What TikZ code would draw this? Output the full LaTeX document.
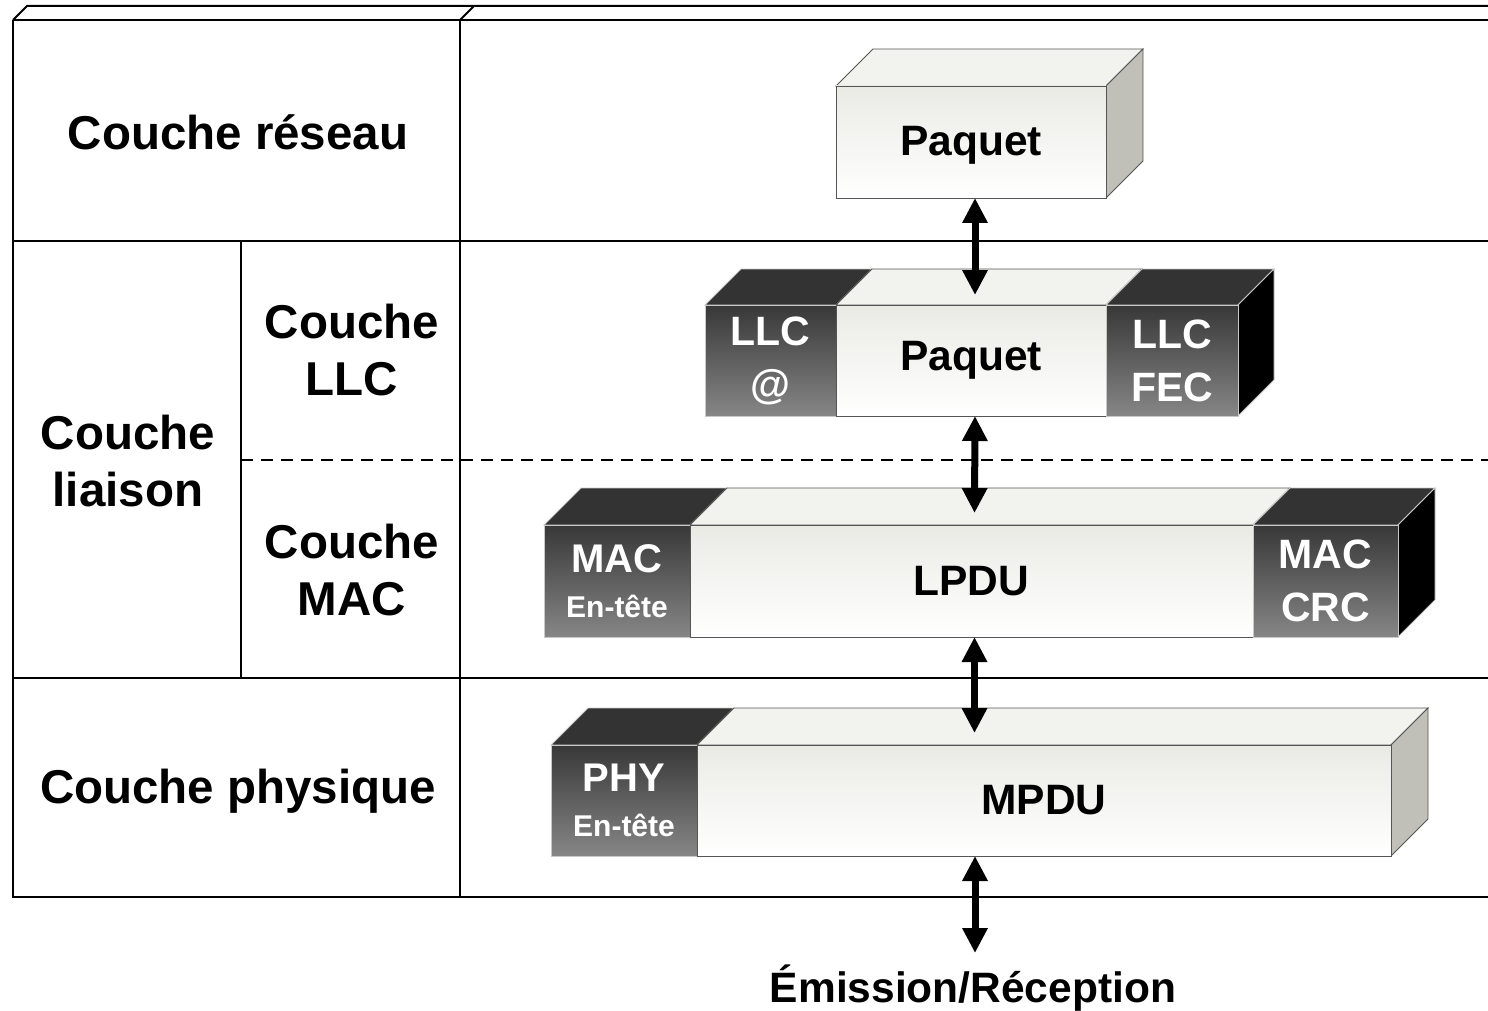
\documentclass[tikz,border=0pt]{standalone}
\usepackage{fontspec}
\setmainfont{Liberation Sans}
\usetikzlibrary{arrows.meta}
\definecolor{lighttop}{HTML}{EAEAE5}
\definecolor{lightface}{HTML}{F2F2EE}
\definecolor{grayside}{HTML}{C0C0B8}
\definecolor{darktop}{HTML}{383838}
\definecolor{darkbot}{HTML}{868686}
\definecolor{darkface}{HTML}{333333}
\definecolor{ledge}{HTML}{555555}
\definecolor{dedge}{HTML}{C8C8C8}
\newcommand\topface[5]{\filldraw[#5] (#1,#3) -- ++(#4,-#4) -- (#2+#4,#3-#4) -- (#2,#3) -- cycle;}
\newcommand\sideface[5]{\filldraw[#5] (#1,#2) -- ++(#4,-#4) -- ++(0,#3-#2) -- (#1,#3) -- cycle;}
\begin{document}
\begin{tikzpicture}[x=1pt,y=-1pt,
  tbl/.style={line width=2pt,black},
  lbl/.style={font=\fontsize{47.5}{57}\selectfont\bfseries, align=center},
  lfront/.style={draw=ledge, line width=0.8pt, top color=lighttop, bottom color=white,
    inner sep=0pt, outer sep=0pt, anchor=north west, font=\fontsize{42.5}{48}\selectfont\bfseries},
  dfront/.style={draw=dedge, line width=0.8pt, top color=darktop, bottom color=darkbot,
    inner sep=0pt, outer sep=0pt, anchor=north west, text=white, align=center},
  ltop/.style={fill=lightface, draw=ledge, line width=0.8pt},
  dtop/.style={fill=darkface, draw=dedge, line width=0.8pt},
  gside/.style={fill=grayside, draw=ledge, line width=0.8pt},
  bside/.style={fill=black, draw=dedge, line width=0.8pt},
  big/.style={font=\fontsize{41}{53}\selectfont\bfseries},
  hdr/.style={font=\fontsize{40}{43}\selectfont\bfseries},
  arr/.style={line width=7pt, {Triangle[width=24pt,length=25pt]}-{Triangle[width=24pt,length=25pt]}}
]
\useasboundingbox (0,0) rectangle (1488,1011);
% table
\draw[tbl] (13,20) -- (27,6) -- (1488,6);
\draw[tbl] (460,20) -- (474,6);
\draw[tbl] (13,20) -- (1488,20);
\draw[tbl] (13,20) -- (13,897) -- (1488,897);
\draw[tbl] (13,241) -- (1488,241);
\draw[tbl] (13,678) -- (1488,678);
\draw[tbl] (460,20) -- (460,897);
\draw[tbl] (241,241) -- (241,678);
\draw[line width=1.5pt, dash pattern=on 12pt off 8pt] (241,460) -- (1488,460);
% labels
\node[lbl] (reseau) at (238,132) {Couche réseau};
\node[lbl] (llc) at (352,350) {Couche\\LLC};
\node[lbl] (liaison) at (128,461) {Couche\\liaison};
\node[lbl] (mac) at (352,570) {Couche\\MAC};
\node[lbl] (phys) at (238,791) {Couche physique};
% row 0
\topface{836}{1106}{86}{37}{ltop}
\sideface{1106}{86}{198}{37}{gside}
\node[lfront, minimum width=270pt, minimum height=112pt, text depth=0pt, text height=0pt] (p1) at (836,86) {};
\node[font=\fontsize{42.5}{48}\selectfont\bfseries] (p1t) at ([yshift=-3pt]p1.center) {Paquet};
% row 1
\topface{705}{836}{305}{36}{dtop}
\topface{836}{1106}{305}{36}{ltop}
\topface{1106}{1238}{305}{36}{dtop}
\sideface{1238}{305}{416}{36}{bside}
\node[dfront, minimum width=131pt, minimum height=111pt, big] (llca) at (705,305) {LLC\\@};
\node[lfront, minimum width=270pt, minimum height=111pt] (p2) at (836,305) {Paquet};
\node[dfront, minimum width=132pt, minimum height=111pt, big] (llcf) at (1106,305) {LLC\\FEC};
% row 2
\topface{544}{690}{525}{37}{dtop}
\topface{690}{1253}{525}{37}{ltop}
\topface{1253}{1398}{525}{37}{dtop}
\sideface{1398}{525}{637}{37}{bside}
\node[dfront, minimum width=146pt, minimum height=112pt, hdr] (mach) at (544,525)
  {MAC\\[2pt]\fontsize{30}{43}\selectfont En-tête};
\node[lfront, minimum width=563pt, minimum height=112pt] (p3) at (690,525) {LPDU};
\node[dfront, minimum width=145pt, minimum height=112pt, big] (macc) at (1253,525) {MAC\\CRC};
% row 3
\topface{551}{697}{745}{37}{dtop}
\topface{697}{1391}{745}{37}{ltop}
\sideface{1391}{745}{856}{37}{gside}
\node[dfront, minimum width=146pt, minimum height=111pt, hdr] (phyh) at (551,745)
  {PHY\\[2pt]\fontsize{30}{43}\selectfont En-tête};
\node[lfront, minimum width=694pt, minimum height=111pt] (p4) at (697,745) {MPDU};
% bottom label
\node[font=\fontsize{42.5}{50}\selectfont\bfseries, anchor=base] (emis) at (973,1002) {Émission/Réception};
\coordinate (etip) at (975,953);
% arrows
\draw[arr] ([xshift=4pt]p1.south) -- ([xshift=4pt,yshift=10pt]p2.north);
\draw[arr] ([xshift=4pt]p2.south) -- ([xshift=3pt,yshift=12pt]p3.north);
\draw[arr] ([xshift=3pt]p3.south) -- ([xshift=3pt,yshift=12pt]p3.north |- p4.north);
\draw[arr] (etip |- p4.south) -- (etip);
\end{tikzpicture}
\end{document}
